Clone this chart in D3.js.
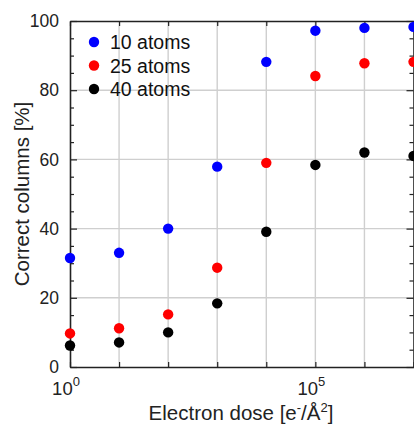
<!DOCTYPE html>
<html>
<head>
<meta charset="utf-8">
<script src="https://cdn.jsdelivr.net/npm/d3@7"></script>
<style>
  body { margin: 0; background: #fff; }
  svg { display: block; font-family: "Liberation Sans", Arial, sans-serif; }
  .axis path, .axis line { stroke: #222; }
</style>
</head>
<body>
<div id="chart"></div>
<script>
// electron dose (decades) and correct columns [%] per series
const doses = [1e0, 1e1, 1e2, 1e3, 1e4, 1e5, 1e6, 1e7];
const atoms10 = [31.5, 33.0, 40.0, 57.9, 88.2, 97.2, 98.0, 98.3];
const atoms25 = [9.7, 11.2, 15.2, 28.7, 59.0, 84.1, 87.8, 88.2];
const atoms40 = [6.2, 7.1, 10.0, 18.4, 39.1, 58.4, 62.0, 61.0];
const seriesNames = ["10 atoms", "25 atoms", "40 atoms"];
const seriesColors = ["#0000ff", "#ff0000", "#000000"];
const yMajorTicks = [0, 20, 40, 60, 80, 100];
const xLabelTicks = [1e0, 1e5];

const width = 414, height = 428;
const margin = { top: 21, left: 70, bottom: 61 };

const svg = d3.select("#chart").append("svg")
    .attr("width", width)
    .attr("height", height);

const x = d3.scaleLog()
    .domain([1e0, 1e7])
    .range([margin.left, 413.5]);

const y = d3.scaleLinear()
    .domain([0, 100])
    .range([height - margin.bottom, margin.top]);

const yMinor = d3.range(0, 101, 5).filter(v => v % 20 !== 0);

// grid lines
const grid = svg.append("g").attr("stroke", "#cfcfcf").attr("stroke-width", 1.4);
grid.selectAll(".vg").data(doses.slice(1, -1)).enter().append("line")
    .attr("x1", d => x(d)).attr("x2", d => x(d))
    .attr("y1", y(0)).attr("y2", y(100));
grid.selectAll(".hg").data([20, 40, 60, 80]).enter().append("line")
    .attr("x1", x(1e0)).attr("x2", x(1e7))
    .attr("y1", d => y(d)).attr("y2", d => y(d));

// axes
const axes = svg.append("g").attr("class", "axis");

axes.append("g")
    .attr("transform", `translate(0,${y(0)})`)
    .call(d3.axisBottom(x).tickValues(doses).tickSizeInner(-5).tickSizeOuter(0).tickFormat(""));
axes.append("g")
    .attr("transform", `translate(0,${y(100)})`)
    .call(d3.axisTop(x).tickValues(doses).tickSizeInner(-5).tickSizeOuter(0).tickFormat(""));

axes.append("g")
    .attr("transform", `translate(${x(1e0)},0)`)
    .call(d3.axisLeft(y).tickValues(yMajorTicks).tickSizeInner(-7).tickSizeOuter(0).tickPadding(11))
    .call(g => g.selectAll("text").attr("font-size", 17.5).attr("fill", "#222"));
axes.append("g")
    .attr("transform", `translate(${x(1e0)},0)`)
    .call(d3.axisLeft(y).tickValues(yMinor).tickSizeInner(-4).tickSizeOuter(0).tickFormat(""))
    .call(g => g.select(".domain").remove());
axes.append("g")
    .attr("transform", `translate(${x(1e7)},0)`)
    .call(d3.axisRight(y).tickValues(yMajorTicks).tickSizeInner(-7).tickSizeOuter(0).tickFormat(""));
axes.append("g")
    .attr("transform", `translate(${x(1e7)},0)`)
    .call(d3.axisRight(y).tickValues(yMinor).tickSizeInner(-4).tickSizeOuter(0).tickFormat(""))
    .call(g => g.select(".domain").remove());
axes.selectAll("path.domain").attr("stroke-width", 1.6);
axes.selectAll(".tick line").attr("stroke-width", 1.2);

axes.selectAll("text").attr("font-family", "Liberation Sans, Arial, sans-serif");

// x tick labels as powers of ten
const xl = svg.append("g").attr("font-size", 18.5).attr("fill", "#222");
xl.selectAll("text").data(xLabelTicks).enter().append("text")
    .attr("x", d => x(d) - 4)
    .attr("y", y(0) + 28)
    .attr("text-anchor", "middle")
    .each(function (d) {
        const t = d3.select(this);
        t.append("tspan").text("10");
        t.append("tspan").attr("dy", -9).attr("font-size", 13).text(Math.round(Math.log10(d)));
    });

// axis titles
const xt = svg.append("text")
    .attr("x", 241).attr("y", 420)
    .attr("text-anchor", "middle")
    .attr("font-size", 20.5).attr("fill", "#222");
xt.append("tspan").text("Electron dose [e");
xt.append("tspan").attr("dy", -8).attr("font-size", 13).text("-");
xt.append("tspan").attr("dy", 8).text("/Å");
xt.append("tspan").attr("dy", -8).attr("font-size", 13).text("2");
xt.append("tspan").attr("dy", 8).text("]");

svg.append("text")
    .attr("transform", `translate(29,${(y(0) + y(100)) / 2}) rotate(-90)`)
    .attr("text-anchor", "middle")
    .attr("font-size", 20.5).attr("fill", "#222")
    .text("Correct columns [%]");

// points (plot region clipped at svg edge)
const series = [atoms10, atoms25, atoms40];
series.forEach((vals, i) => {
    svg.append("g").selectAll("circle")
        .data(vals.map((v, j) => ({ dose: doses[j], value: v })))
        .enter().append("circle")
        .attr("cx", d => x(d.dose))
        .attr("cy", d => y(d.value))
        .attr("r", 5.2)
        .attr("fill", seriesColors[i]);
});

// legend
const legend = svg.append("g");
seriesNames.forEach((name, i) => {
    const ly = 42 + i * 23.5;
    legend.append("circle")
        .attr("cx", 94).attr("cy", ly).attr("r", 5.2)
        .attr("fill", seriesColors[i]);
    legend.append("text")
        .attr("x", 110).attr("y", ly + 7)
        .attr("font-size", 19.5).attr("fill", "#111")
        .text(name);
});
</script>
</body>
</html>
